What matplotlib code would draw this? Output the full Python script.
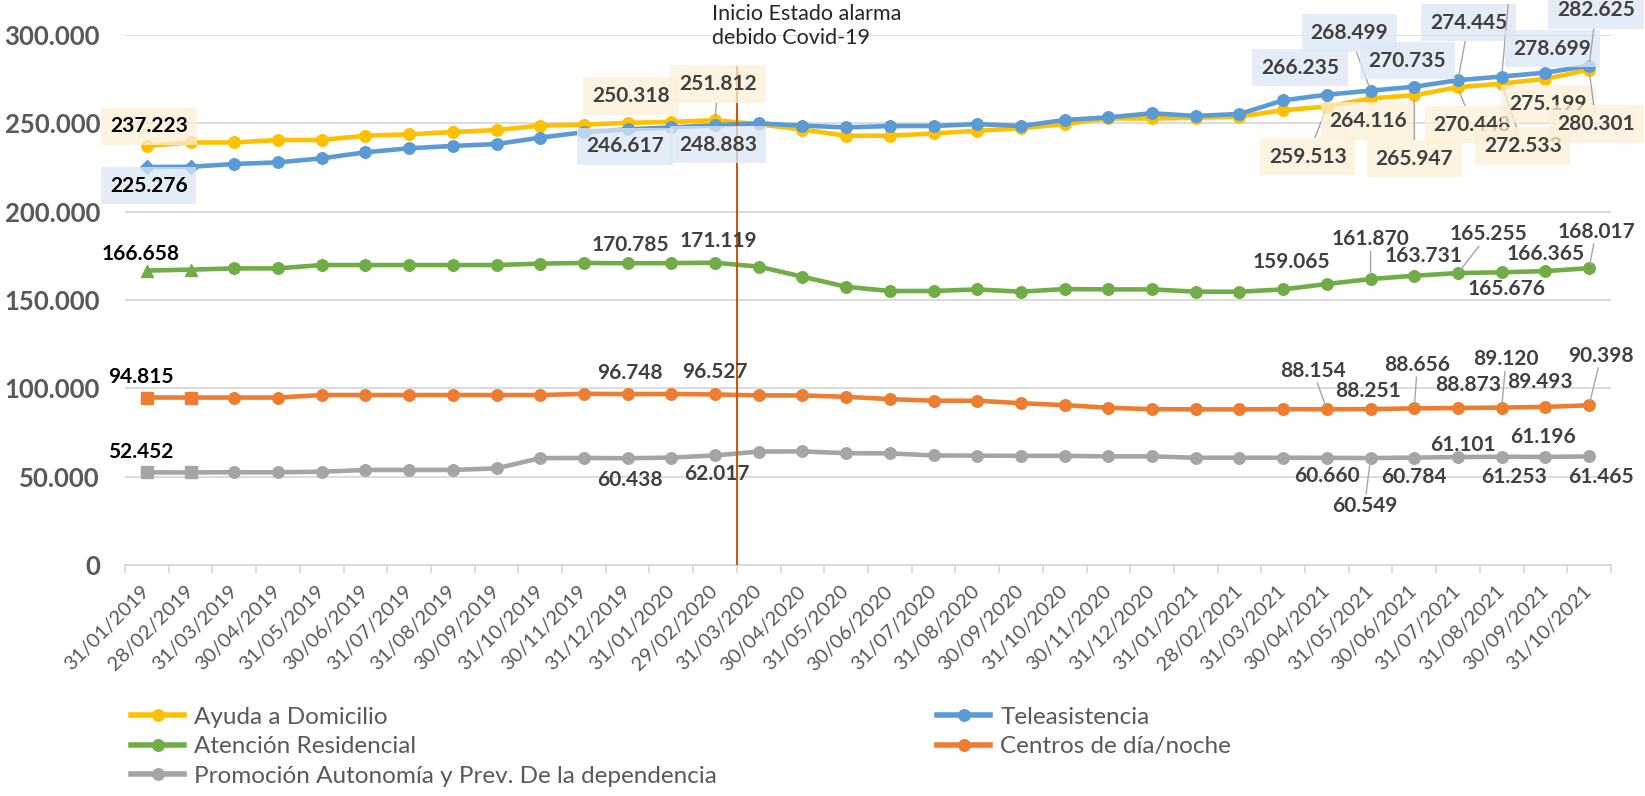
import matplotlib
matplotlib.use("Agg")
import matplotlib.pyplot as plt
import matplotlib.transforms as mtransforms
from matplotlib.lines import Line2D

plt.rcParams['font.family'] = ['Lato', 'DejaVu Sans']

fechas = ["31/01/2019", "28/02/2019", "31/03/2019", "30/04/2019", "31/05/2019", "30/06/2019",
          "31/07/2019", "31/08/2019", "30/09/2019", "31/10/2019", "30/11/2019", "31/12/2019",
          "31/01/2020", "29/02/2020", "31/03/2020", "30/04/2020", "31/05/2020", "30/06/2020",
          "31/07/2020", "31/08/2020", "30/09/2020", "31/10/2020", "30/11/2020", "31/12/2020",
          "31/01/2021", "28/02/2021", "31/03/2021", "30/04/2021", "31/05/2021", "30/06/2021",
          "31/07/2021", "31/08/2021", "30/09/2021", "31/10/2021"]

ayuda = [237223, 239200, 239200, 240600, 240600, 243000, 243800, 245100, 246200, 248700,
         249300, 250318, 250800, 251812, 249500, 246500, 243000, 243000, 244300, 245800,
         247200, 249600, 252800, 252800, 253200, 253800, 257500, 259513, 264116, 265947,
         270448, 272533, 275199, 280301]
teleasistencia = [225276, 225400, 227000, 227900, 230200, 233600, 235900, 237200, 238300, 241900,
                  245000, 246617, 247700, 248883, 250000, 248700, 247700, 248500, 248500, 249600,
                  248500, 251900, 253400, 255700, 254200, 255300, 263000, 266235, 268499, 270735,
                  274445, 276500, 278699, 282625]
residencial = [166658, 167200, 167900, 167900, 169800, 169800, 169800, 169800, 169800, 170600,
               171000, 170785, 170900, 171119, 168900, 163200, 157500, 155100, 155100, 156000,
               154700, 156200, 156000, 156000, 154700, 154700, 156000, 159065, 161870, 163731,
               165255, 165676, 166365, 168017]
centros = [94815, 94800, 94800, 94800, 96200, 96200, 96200, 96200, 96200, 96200,
           96900, 96748, 96800, 96527, 96000, 96000, 95200, 93900, 93000, 93000,
           91600, 90500, 89000, 88200, 88100, 88100, 88200, 88154, 88251, 88656,
           88873, 89120, 89493, 90398]
promocion = [52452, 52400, 52500, 52500, 52800, 53800, 53800, 53800, 54700, 60500,
             60600, 60438, 60800, 62017, 64200, 64300, 63300, 63200, 62000, 61900,
             61800, 61800, 61500, 61500, 60700, 60700, 60700, 60660, 60549, 60784,
             61101, 61253, 61196, 61465]

nombres = ["Ayuda a Domicilio", "Teleasistencia", "Atención Residencial",
           "Centros de día/noche", "Promoción Autonomía y Prev. De la dependencia"]
series = [ayuda, teleasistencia, residencial, centros, promocion]
colores = ["#FFC000", "#5B9BD5", "#70AD47", "#ED7D31", "#A5A5A5"]
primeros = ["o", "D", "^", "s", "s"]   # marker of the first two points
cajas = ["#FCEFD6", "#DCE8F5", None, None, None]

# label offsets in pixels (dx right, dy down), leader line flag
# (a None entry: label falls outside the picture, only its leader line shows)
offsets = [
    {0: (2, -19.5, 0), 11: (3.5, -27, 0), 13: (3, -36, 1), 27: (-19, 50, 1), 28: (-2, 22.6, 0),
     29: (0, 63.5, 1), 30: (14, 37.5, 1), 31: (21, 62.5, 1), 32: (3, 25, 0), 33: (7, 54, 1)},
    {0: (2, 18.5, 0), 11: (-2.6, 17, 0), 13: (3, 19.4, 0), 27: (-27, -27, 0), 28: (-21, -57.6, 1),
     29: (-7, -26, 0), 30: (10.6, -57.6, 1), 31: (6.5, -72, None), 32: (7, -24, 0), 33: (7, -55.7, 1)},
    {0: (-6, -17, 0), 11: (3, -18, 0), 13: (3.6, -21.7, 0), 27: (-35, -22, 0), 28: (0, -40, 1),
     29: (9, -20, 0), 30: (30.6, -39, 1), 31: (5, 17, 0), 32: (0, -17, 0), 33: (7, -36.5, 1)},
    {0: (-6, -20.7, 0), 11: (2.4, -20.6, 0), 13: (0, -22.7, 0), 27: (-14, -38.5, 1), 28: (-3, -17.8, 0),
     29: (3, -43.4, 1), 30: (10.6, -23, 0), 31: (4.4, -48.4, 1), 32: (-5.6, -25, 0), 33: (12, -49.5, 1)},
    {0: (-6, -20.6, 0), 11: (2.4, 21.8, 0), 13: (2, 18.8, 0), 27: (0, 18.4, 0), 28: (-6, 48, 1),
     29: (0, 19.5, 0), 30: (5, -11.8, 0), 31: (12, 20, 0), 32: (-2.6, -20, 0), 33: (12, 20.7, 0)},
]


def fmt(v):
    return "{:,}".format(v).replace(",", ".")


fig = plt.figure(figsize=(16.45, 7.96), dpi=100)
ax = fig.add_axes([0.0760, 0.2902, 0.9033, 0.6658])
x = list(range(len(fechas)))

for k, (vals, col) in enumerate(zip(series, colores)):
    ax.plot(x, vals, color=col, lw=3.3, marker="o", ms=8.3, markevery=list(range(2, len(x))),
            solid_capstyle="round", zorder=3 + k * 0.1)
    msz = 7.5 if primeros[k] == "D" else 8.3
    ax.plot(x[:2], vals[:2], ls="none", marker=primeros[k], ms=msz, color=col, zorder=3 + k * 0.1)

    for i, (dx, dy, leader) in offsets[k].items():
        if leader is None:
            ax.annotate("", (x[i], vals[i]), xytext=(dx, -dy), textcoords="offset pixels",
                        arrowprops=dict(arrowstyle="-", color="#A6A6A6", lw=1.0,
                                        shrinkA=0, shrinkB=3), zorder=6)
            continue
        color_txt = "#000000" if i == 0 else "#404040"
        if cajas[k]:
            bbox = dict(boxstyle="square,pad=0.42", fc=cajas[k], ec="none", alpha=0.75)
        else:
            bbox = dict(boxstyle="square,pad=0.1", fc="none", ec="none")
        arrow = dict(arrowstyle="-", color="#A6A6A6", lw=1.0, shrinkA=0, shrinkB=3) if leader else None
        ax.annotate(fmt(vals[i]), (x[i], vals[i]), xytext=(dx, -dy), textcoords="offset pixels",
                    ha="center", va="center", fontsize=15, fontweight="bold", color=color_txt,
                    bbox=bbox, arrowprops=arrow, zorder=6, annotation_clip=False)

# vertical marker: start of the state of alarm
evento = fechas.index("29/02/2020") + 0.5
ax.vlines(evento, 0, max(teleasistencia), color="#C55A11", lw=1.5, zorder=4)
ax.annotate("Inicio Estado alarma\ndebido Covid-19", (evento, 1.0), xycoords=("data", "axes fraction"),
            xytext=(-25, 31), textcoords="offset pixels", ha="left", va="top",
            fontsize=15.5, color="#262626", linespacing=1.27, annotation_clip=False)

ax.set_xlim(-0.5, len(x) - 0.5)
ax.set_ylim(0, 300000)
ax.set_yticks(range(0, 300001, 50000))
ax.set_yticklabels([fmt(v) for v in range(0, 300001, 50000)], fontsize=18.5,
                   fontweight="bold", color="#595959")
ax.set_xticks(x)
ax.set_xticklabels(fechas, rotation=45, ha="right", va="center", rotation_mode="anchor",
                   fontsize=14.5, color="#595959")
shift = mtransforms.ScaledTranslation(6 / 100, 0, fig.dpi_scale_trans)
for lab in ax.get_xticklabels():
    lab.set_transform(lab.get_transform() + shift)
ax.set_xticks([i - 0.5 for i in range(len(x) + 1)], minor=True)
ax.tick_params(axis="x", which="major", length=0, pad=17)
ax.tick_params(axis="x", which="minor", length=5.4, width=1.3, color="#D9D9D9")
ax.tick_params(axis="y", length=0, pad=18)
ax.yaxis.grid(True, color="#D9D9D9", lw=1.3)
ax.set_axisbelow(True)
for s in ["left", "right", "top"]:
    ax.spines[s].set_visible(False)
ax.spines["bottom"].set_color("#D9D9D9")
ax.spines["bottom"].set_linewidth(1.3)

handles = [Line2D([], [], color=c, lw=4, marker="o", ms=8.3) for c in colores]
leg_kw = dict(loc="upper left", frameon=False, fontsize=17.5, borderpad=0, borderaxespad=0,
              handlelength=2.2, handletextpad=0.4, labelspacing=0.35, numpoints=1,
              labelcolor="#595959")
fig.legend([handles[0], handles[2], handles[4]], [nombres[0], nombres[2], nombres[4]],
           bbox_to_anchor=(0.0796, 0.112), **leg_kw)
fig.legend([handles[1], handles[3]], [nombres[1], nombres[3]],
           bbox_to_anchor=(0.5696, 0.112), **leg_kw)

fig.savefig("out.png", dpi=100)
